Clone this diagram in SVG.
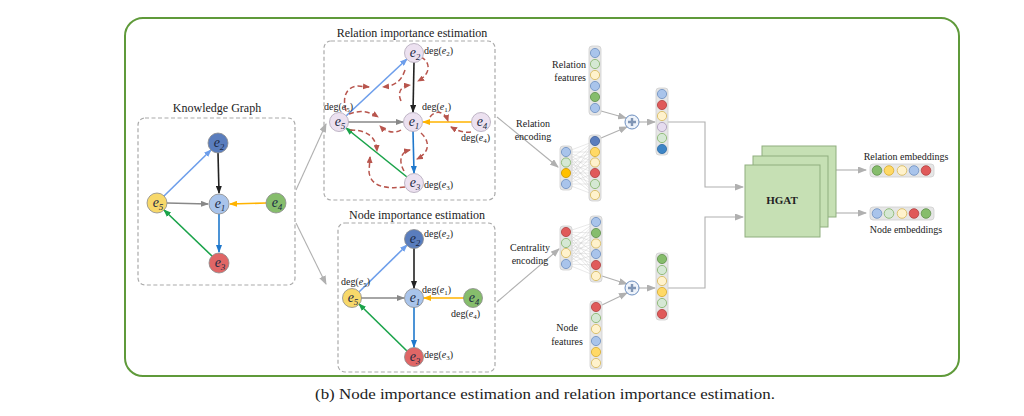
<svg xmlns="http://www.w3.org/2000/svg" width="1024" height="416" viewBox="0 0 1024 416">
<style>
text{font-family:"Liberation Serif","Times New Roman",serif;fill:#222}
.t12{font-size:12px}
.t10{font-size:10px}
.deg{font-size:10px}
.ev{font-style:italic}
.box{fill:none;stroke:#aaa;stroke-width:1.2;stroke-dasharray:4 2.5}
.kn{stroke:#8a8a8a;stroke-width:0.8}
.rn{fill:#ece1f0;stroke:#b0a6b8;stroke-width:0.8}
.nl{font-size:14px;font-style:italic;fill:#1a2a44;text-anchor:middle}
.gl{stroke:#b0b0b0;stroke-width:1.1;fill:none}
.col{fill:#e6e6e6;stroke:#cfcfcf;stroke-width:0.8}
.c{stroke-width:0.8}
.lb{fill:#a9c4eb;stroke:#6c8ebf}
.lg{fill:#d5e8d4;stroke:#82b366}
.ly{fill:#fff2cc;stroke:#d6b656}
.gr{fill:#86bd6c;stroke:#5f8f4a}
.ye{fill:#ffd966;stroke:#d6a92e}
.or{fill:#ffc000;stroke:#c99400}
.rd{fill:#e05a5a;stroke:#b04040}
.db{fill:#5a7dbd;stroke:#3e5f99}
.bl{fill:#3d85c6;stroke:#2a6aa5}
.lv{fill:#e6dcef;stroke:#a898b8}
.mesh{stroke:#c8c8c8;stroke-width:0.4}
.rdash{fill:none;stroke:#b8554d;stroke-width:1.5;stroke-dasharray:5 3}
.hg{fill:#c6e0b4;stroke:#8fae7e;stroke-width:1}
</style>
<defs>
<marker id="mk" markerUnits="userSpaceOnUse" markerWidth="8" markerHeight="6" refX="7" refY="3" orient="auto"><path d="M0,0 L8,3 L0,6 z" fill="#222"/></marker>
<marker id="mlb" markerUnits="userSpaceOnUse" markerWidth="8" markerHeight="6" refX="7" refY="3" orient="auto"><path d="M0,0 L8,3 L0,6 z" fill="#6d9eeb"/></marker>
<marker id="mgy" markerUnits="userSpaceOnUse" markerWidth="8" markerHeight="6" refX="7" refY="3" orient="auto"><path d="M0,0 L8,3 L0,6 z" fill="#888"/></marker>
<marker id="mor" markerUnits="userSpaceOnUse" markerWidth="8" markerHeight="6" refX="7" refY="3" orient="auto"><path d="M0,0 L8,3 L0,6 z" fill="#ffb300"/></marker>
<marker id="mbl" markerUnits="userSpaceOnUse" markerWidth="8" markerHeight="6" refX="7" refY="3" orient="auto"><path d="M0,0 L8,3 L0,6 z" fill="#1f78cc"/></marker>
<marker id="mgr" markerUnits="userSpaceOnUse" markerWidth="8" markerHeight="6" refX="7" refY="3" orient="auto"><path d="M0,0 L8,3 L0,6 z" fill="#1aa34a"/></marker>
<marker id="mlg" markerUnits="userSpaceOnUse" markerWidth="9" markerHeight="7" refX="8" refY="3.5" orient="auto"><path d="M0,0 L9,3.5 L0,7 z" fill="#b0b0b0"/></marker>
<marker id="mrd" markerUnits="userSpaceOnUse" markerWidth="7" markerHeight="6" refX="6" refY="3" orient="auto"><path d="M0,0 L7,3 L0,6 z" fill="#b8554d"/></marker>
</defs>
<rect width="1024" height="416" fill="#fff"/>
<rect x="125" y="18" width="834" height="358" rx="18" fill="none" stroke="#5f9a3a" stroke-width="2"/>

<!-- Knowledge graph -->
<g id="kg">
<text class="t12" x="217" y="112" text-anchor="middle">Knowledge Graph</text>
<rect class="box" x="138" y="118" width="157" height="167" rx="7"/>
<g id="kg-edges">
<line x1="218" y1="153" x2="219" y2="193" stroke="#222" stroke-width="1.6" marker-end="url(#mk)"/>
<line x1="164" y1="196" x2="211" y2="150" stroke="#6d9eeb" stroke-width="1.6" marker-end="url(#mlb)"/>
<line x1="167" y1="203" x2="208" y2="204" stroke="#888" stroke-width="1.6" marker-end="url(#mgy)"/>
<line x1="266" y1="203" x2="230" y2="204" stroke="#ffb300" stroke-width="1.6" marker-end="url(#mor)"/>
<line x1="219" y1="214" x2="219" y2="252" stroke="#1f78cc" stroke-width="1.6" marker-end="url(#mbl)"/>
<line x1="212" y1="256" x2="164" y2="210" stroke="#1aa34a" stroke-width="1.6" marker-end="url(#mgr)"/>
</g>
<g id="kg-e2"><circle class="kn" cx="218" cy="143" r="10" fill="#5a7dbd"/><text class="nl" x="219" y="147">e<tspan font-size="9" dy="3">2</tspan></text></g>
<g id="kg-e1"><circle class="kn" cx="219" cy="204" r="10" fill="#a9c4eb"/><text class="nl" x="220" y="208">e<tspan font-size="9" dy="3">1</tspan></text></g>
<g id="kg-e5"><circle class="kn" cx="157" cy="203" r="10" fill="#f7d86a"/><text class="nl" x="158" y="207">e<tspan font-size="9" dy="3">5</tspan></text></g>
<g id="kg-e4"><circle class="kn" cx="276" cy="203" r="10" fill="#86bd6c"/><text class="nl" x="277" y="207">e<tspan font-size="9" dy="3">4</tspan></text></g>
<g id="kg-e3"><circle class="kn" cx="219" cy="263" r="10" fill="#e06666"/><text class="nl" x="220" y="267">e<tspan font-size="9" dy="3">3</tspan></text></g>
</g>

<!-- Relation importance estimation -->
<g id="rel-est">
<text class="t12" x="412" y="37" text-anchor="middle">Relation importance estimation</text>
<rect class="box" x="324" y="41" width="171" height="159" rx="7"/>
<g id="rel-edges">
<line x1="414" y1="62" x2="413" y2="112" stroke="#222" stroke-width="1.6" marker-end="url(#mk)"/>
<line x1="346" y1="116" x2="407" y2="59" stroke="#6d9eeb" stroke-width="1.6" marker-end="url(#mlb)"/>
<line x1="348" y1="122" x2="403" y2="122" stroke="#888" stroke-width="1.6" marker-end="url(#mgy)"/>
<line x1="472" y1="122" x2="423" y2="122" stroke="#ffb300" stroke-width="1.6" marker-end="url(#mor)"/>
<line x1="413" y1="131" x2="414" y2="173" stroke="#1f78cc" stroke-width="1.6" marker-end="url(#mbl)"/>
<line x1="407" y1="177" x2="346" y2="128" stroke="#1aa34a" stroke-width="1.6" marker-end="url(#mgr)"/>
</g>
<g id="rel-dashes">
<path class="rdash" d="M421,57 C431,62 431,74 418,81" marker-end="url(#mrd)"/>
<path class="rdash" d="M401,101 C397,92 401,86 410,85" marker-end="url(#mrd)"/>
<path class="rdash" d="M346,111 C342,97 346,87 358,86 L369,87" marker-end="url(#mrd)"/>
<path class="rdash" d="M405,70 C401,82 394,86 383,87" marker-end="url(#mrd)"/>
<path class="rdash" d="M349,114 C359,110 369,111 378,117" marker-end="url(#mrd)"/>
<path class="rdash" d="M401,130 C395,134 386,132 380,126" marker-end="url(#mrd)"/>
<path class="rdash" d="M430,117 C436,109 445,112 448,121" marker-end="url(#mrd)"/>
<path class="rdash" d="M471,132 C464,133 458,131 451,127" marker-end="url(#mrd)"/>
<path class="rdash" d="M421,133 C431,142 429,153 417,159" marker-end="url(#mrd)"/>
<path class="rdash" d="M404,171 C398,160 401,152 410,150" marker-end="url(#mrd)"/>
<path class="rdash" d="M350,130 C365,130 376,135 377,151" marker-end="url(#mrd)"/>
<path class="rdash" d="M405,187 C385,189 371,187 369,172 L370,157" marker-end="url(#mrd)"/>
</g>
<g id="rel-e2"><circle class="rn" cx="414" cy="53" r="9.5"/><text class="nl" x="415" y="57">e<tspan font-size="9" dy="3">2</tspan></text><text class="deg" x="424" y="54">deg(<tspan class="ev">e</tspan><tspan font-size="7" dy="2">2</tspan><tspan dy="-2">)</tspan></text></g>
<g id="rel-e1"><circle class="rn" cx="413" cy="122" r="9.5"/><text class="nl" x="414" y="126">e<tspan font-size="9" dy="3">1</tspan></text><text class="deg" x="422" y="110">deg(<tspan class="ev">e</tspan><tspan font-size="7" dy="2">1</tspan><tspan dy="-2">)</tspan></text></g>
<g id="rel-e5"><circle class="rn" cx="339" cy="122" r="9.5"/><text class="nl" x="340" y="126">e<tspan font-size="9" dy="3">5</tspan></text><text class="deg" x="324" y="110">deg(<tspan class="ev">e</tspan><tspan font-size="7" dy="2">5</tspan><tspan dy="-2">)</tspan></text></g>
<g id="rel-e4"><circle class="rn" cx="481" cy="122" r="9.5"/><text class="nl" x="482" y="126">e<tspan font-size="9" dy="3">4</tspan></text><text class="deg" x="461" y="141">deg(<tspan class="ev">e</tspan><tspan font-size="7" dy="2">4</tspan><tspan dy="-2">)</tspan></text></g>
<g id="rel-e3"><circle class="rn" cx="414" cy="183" r="9.5"/><text class="nl" x="415" y="187">e<tspan font-size="9" dy="3">3</tspan></text><text class="deg" x="424" y="188">deg(<tspan class="ev">e</tspan><tspan font-size="7" dy="2">3</tspan><tspan dy="-2">)</tspan></text></g>
</g>

<!-- Node importance estimation -->
<g id="node-est">
<text class="t12" x="417" y="219" text-anchor="middle">Node importance estimation</text>
<rect class="box" x="338" y="223" width="157" height="149" rx="7"/>
<g id="node-edges">
<line x1="414" y1="248" x2="414" y2="288" stroke="#222" stroke-width="1.6" marker-end="url(#mk)"/>
<line x1="359" y1="292" x2="407" y2="245" stroke="#6d9eeb" stroke-width="1.6" marker-end="url(#mlb)"/>
<line x1="361" y1="298" x2="404" y2="298" stroke="#888" stroke-width="1.6" marker-end="url(#mgy)"/>
<line x1="464" y1="298" x2="424" y2="298" stroke="#ffb300" stroke-width="1.6" marker-end="url(#mor)"/>
<line x1="414" y1="307" x2="414" y2="347" stroke="#1f78cc" stroke-width="1.6" marker-end="url(#mbl)"/>
<line x1="407" y1="351" x2="359" y2="304" stroke="#1aa34a" stroke-width="1.6" marker-end="url(#mgr)"/>
</g>
<g id="node-e2"><circle class="kn" cx="414" cy="239" r="9.5" fill="#5a7dbd"/><text class="nl" x="415" y="243">e<tspan font-size="9" dy="3">2</tspan></text><text class="deg" x="424" y="237">deg(<tspan class="ev">e</tspan><tspan font-size="7" dy="2">2</tspan><tspan dy="-2">)</tspan></text></g>
<g id="node-e1"><circle class="kn" cx="414" cy="298" r="9.5" fill="#a9c4eb"/><text class="nl" x="415" y="302">e<tspan font-size="9" dy="3">1</tspan></text><text class="deg" x="422" y="293">deg(<tspan class="ev">e</tspan><tspan font-size="7" dy="2">1</tspan><tspan dy="-2">)</tspan></text></g>
<g id="node-e5"><circle class="kn" cx="352" cy="298" r="9.5" fill="#f7d86a"/><text class="nl" x="353" y="302">e<tspan font-size="9" dy="3">5</tspan></text><text class="deg" x="341" y="285">deg(<tspan class="ev">e</tspan><tspan font-size="7" dy="2">5</tspan><tspan dy="-2">)</tspan></text></g>
<g id="node-e4"><circle class="kn" cx="473" cy="298" r="9.5" fill="#86bd6c"/><text class="nl" x="474" y="302">e<tspan font-size="9" dy="3">4</tspan></text><text class="deg" x="451" y="317">deg(<tspan class="ev">e</tspan><tspan font-size="7" dy="2">4</tspan><tspan dy="-2">)</tspan></text></g>
<g id="node-e3"><circle class="kn" cx="414" cy="357" r="9.5" fill="#e06666"/><text class="nl" x="415" y="361">e<tspan font-size="9" dy="3">3</tspan></text><text class="deg" x="424" y="358">deg(<tspan class="ev">e</tspan><tspan font-size="7" dy="2">3</tspan><tspan dy="-2">)</tspan></text></g>
</g>

<!-- Connectors -->
<g id="connectors">
<line class="gl" x1="296" y1="190" x2="326" y2="124" marker-end="url(#mlg)"/>
<line class="gl" x1="296" y1="223" x2="326" y2="284" marker-end="url(#mlg)"/>
<line class="gl" x1="497" y1="117" x2="558" y2="167" marker-end="url(#mlg)"/>
<line class="gl" x1="497" y1="302" x2="559" y2="249" marker-end="url(#mlg)"/>
<line class="gl" x1="601" y1="111" x2="626" y2="118" marker-end="url(#mlg)"/>
<line class="gl" x1="601" y1="138" x2="627" y2="127" marker-end="url(#mlg)"/>
<line class="gl" x1="639" y1="122" x2="655" y2="122" marker-end="url(#mlg)"/>
<line class="gl" x1="602" y1="276" x2="627" y2="284" marker-end="url(#mlg)"/>
<line class="gl" x1="602" y1="305" x2="627" y2="293" marker-end="url(#mlg)"/>
<line class="gl" x1="639" y1="288" x2="655" y2="288" marker-end="url(#mlg)"/>
<polyline class="gl" points="668,122 705,122 705,187 743,187" marker-end="url(#mlg)"/>
<polyline class="gl" points="668,288 705,288 705,217 743,217" marker-end="url(#mlg)"/>
<line class="gl" x1="836" y1="170" x2="866" y2="170" marker-end="url(#mlg)"/>
<line class="gl" x1="836" y1="213" x2="866" y2="213" marker-end="url(#mlg)"/>
</g>

<!-- Relation features -->
<g id="rel-features">
<text class="t10" x="586" y="68" text-anchor="end">Relation</text>
<text class="t10" x="586" y="81" text-anchor="end">features</text>
<rect class="col" x="589" y="46" width="12" height="69" rx="3"/>
<circle class="c lb" cx="595" cy="53" r="4.6"/><circle class="c lg" cx="595" cy="64" r="4.6"/><circle class="c ly" cx="595" cy="75" r="4.6"/><circle class="c lb" cx="595" cy="86" r="4.6"/><circle class="c gr" cx="595" cy="97" r="4.6"/><circle class="c lb" cx="595" cy="108" r="4.6"/>
</g>

<!-- Relation encoding -->
<g id="rel-encoding">
<text class="t10" x="533" y="127" text-anchor="middle">Relation</text>
<text class="t10" x="533" y="140" text-anchor="middle">encoding</text>
<g class="mesh">
<path d="M566,152 L595,141 M566,152 L595,152 M566,152 L595,162 M566,152 L595,173 M566,152 L595,184 M566,152 L595,195 M566,162 L595,141 M566,162 L595,152 M566,162 L595,162 M566,162 L595,173 M566,162 L595,184 M566,162 L595,195 M566,173 L595,141 M566,173 L595,152 M566,173 L595,162 M566,173 L595,173 M566,173 L595,184 M566,173 L595,195 M566,184 L595,141 M566,184 L595,152 M566,184 L595,162 M566,184 L595,173 M566,184 L595,184 M566,184 L595,195"/>
</g>
<rect class="col" x="560" y="146" width="12" height="44" rx="3"/>
<circle class="c lb" cx="566" cy="152" r="4.6"/><circle class="c lg" cx="566" cy="162.5" r="4.6"/><circle class="c or" cx="566" cy="173" r="4.6"/><circle class="c lb" cx="566" cy="184" r="4.6"/>
<rect class="col" x="589" y="135" width="12" height="66" rx="3"/>
<circle class="c db" cx="595" cy="141" r="4.6"/><circle class="c ye" cx="595" cy="152" r="4.6"/><circle class="c ly" cx="595" cy="162.5" r="4.6"/><circle class="c rd" cx="595" cy="173" r="4.6"/><circle class="c lg" cx="595" cy="184" r="4.6"/><circle class="c ly" cx="595" cy="195" r="4.6"/>
</g>

<g id="rel-plus">
<circle cx="632" cy="122" r="7" fill="#eef3fa" stroke="#6c8ebf" stroke-width="1"/>
<path d="M628,122 L636,122 M632,118 L632,126" stroke="#7f95b5" stroke-width="2.4"/>
</g>

<g id="rel-output">
<rect class="col" x="656" y="88" width="12" height="67" rx="3"/>
<circle class="c lb" cx="662" cy="94" r="4.6"/><circle class="c rd" cx="662" cy="105" r="4.6"/><circle class="c ly" cx="662" cy="116" r="4.6"/><circle class="c lv" cx="662" cy="127" r="4.6"/><circle class="c lg" cx="662" cy="138" r="4.6"/><circle class="c bl" cx="662" cy="149" r="4.6"/>
</g>

<!-- Centrality encoding -->
<g id="cent-encoding">
<text class="t10" x="530" y="251" text-anchor="middle">Centrality</text>
<text class="t10" x="530" y="264" text-anchor="middle">encoding</text>
<g class="mesh">
<path d="M566,232 L596,222 M566,232 L596,233 M566,232 L596,243 M566,232 L596,254 M566,232 L596,265 M566,232 L596,276 M566,243 L596,222 M566,243 L596,233 M566,243 L596,243 M566,243 L596,254 M566,243 L596,265 M566,243 L596,276 M566,253 L596,222 M566,253 L596,233 M566,253 L596,243 M566,253 L596,254 M566,253 L596,265 M566,253 L596,276 M566,264 L596,222 M566,264 L596,233 M566,264 L596,243 M566,264 L596,254 M566,264 L596,265 M566,264 L596,276"/>
</g>
<rect class="col" x="560" y="226" width="12" height="44" rx="3"/>
<circle class="c rd" cx="566" cy="232" r="4.6"/><circle class="c lg" cx="566" cy="243" r="4.6"/><circle class="c ly" cx="566" cy="253" r="4.6"/><circle class="c lb" cx="566" cy="264" r="4.6"/>
<rect class="col" x="590" y="216" width="12" height="66" rx="3"/>
<circle class="c lb" cx="596" cy="222" r="4.6"/><circle class="c gr" cx="596" cy="233" r="4.6"/><circle class="c ly" cx="596" cy="243.5" r="4.6"/><circle class="c lb" cx="596" cy="254" r="4.6"/><circle class="c rd" cx="596" cy="265" r="4.6"/><circle class="c ly" cx="596" cy="276" r="4.6"/>
</g>

<!-- Node features -->
<g id="node-features">
<text class="t10" x="567" y="331" text-anchor="middle">Node</text>
<text class="t10" x="567" y="345" text-anchor="middle">features</text>
<rect class="col" x="590" y="301" width="12" height="68" rx="3"/>
<circle class="c rd" cx="596" cy="307" r="4.6"/><circle class="c lg" cx="596" cy="318" r="4.6"/><circle class="c ly" cx="596" cy="329" r="4.6"/><circle class="c lb" cx="596" cy="341" r="4.6"/><circle class="c ye" cx="596" cy="352" r="4.6"/><circle class="c ly" cx="596" cy="363" r="4.6"/>
</g>

<g id="node-plus">
<circle cx="632" cy="288" r="7" fill="#eef3fa" stroke="#6c8ebf" stroke-width="1"/>
<path d="M628,288 L636,288 M632,284 L632,292" stroke="#7f95b5" stroke-width="2.4"/>
</g>

<g id="node-output">
<rect class="col" x="656" y="253" width="12" height="67" rx="3"/>
<circle class="c gr" cx="662" cy="259" r="4.6"/><circle class="c lg" cx="662" cy="270" r="4.6"/><circle class="c ly" cx="662" cy="281" r="4.6"/><circle class="c ye" cx="662" cy="292" r="4.6"/><circle class="c lg" cx="662" cy="303" r="4.6"/><circle class="c rd" cx="662" cy="314" r="4.6"/>
</g>

<!-- HGAT -->
<g id="hgat">
<rect class="hg" x="762" y="146" width="74" height="71"/>
<rect class="hg" x="753" y="156" width="75" height="71"/>
<rect class="hg" x="745" y="165" width="75" height="72"/>
<text x="782" y="204" text-anchor="middle" font-size="11" font-weight="bold">HGAT</text>
</g>

<g id="rel-emb">
<text class="t10" x="906" y="160" text-anchor="middle">Relation embeddings</text>
<rect class="col" x="870" y="164" width="64" height="13" rx="3"/>
<circle class="c gr" cx="877" cy="170.5" r="4.8"/><circle class="c ye" cx="889" cy="170.5" r="4.8"/><circle class="c ly" cx="902" cy="170.5" r="4.8"/><circle class="c lb" cx="914" cy="170.5" r="4.8"/><circle class="c rd" cx="926" cy="170.5" r="4.8"/>
</g>

<g id="node-emb">
<rect class="col" x="870" y="207" width="64" height="13" rx="3"/>
<circle class="c lb" cx="877" cy="213.5" r="4.8"/><circle class="c lg" cx="889" cy="213.5" r="4.8"/><circle class="c ly" cx="902" cy="213.5" r="4.8"/><circle class="c rd" cx="914" cy="213.5" r="4.8"/><circle class="c gr" cx="926" cy="213.5" r="4.8"/>
<text class="t10" x="906" y="233" text-anchor="middle">Node embeddings</text>
</g>

<text x="545" y="399" text-anchor="middle" font-size="15" textLength="460" lengthAdjust="spacingAndGlyphs">(b) Node importance estimation and relation importance estimation.</text>
</svg>
